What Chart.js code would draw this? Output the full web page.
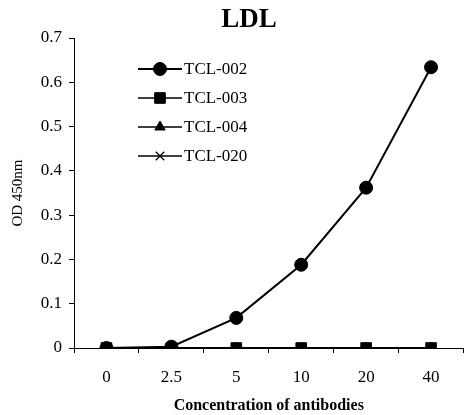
<!DOCTYPE html>
<html>
<head>
<meta charset="UTF-8">
<title>LDL</title>
<script src="https://cdn.jsdelivr.net/npm/chart.js"></script>
<style>
  html, body { margin: 0; padding: 0; background: #fff; overflow: hidden; }
  #wrap { width: 464px; height: 415px; overflow: hidden; }
</style>
</head>
<body>
<div id="wrap"><canvas id="chart" width="472" height="415"></canvas></div>
<script>
const concentrations = ['0', '2.5', '5', '10', '20', '40'];
const tcl002 = [0, 0.003, 0.068, 0.188, 0.362, 0.634];
const tcl003 = [0, 0, 0, 0, 0, 0];
const tcl004 = [0, 0, 0, 0, 0, 0];
const tcl020 = [0, 0, 0, 0, 0, 0];
const seriesNames = ['TCL-002', 'TCL-003', 'TCL-004', 'TCL-020'];
const chartTitle = 'LDL';

const serif = '"Liberation Serif", "Times New Roman", serif';

function series(label, data, style, radius) {
  return {
    label, data,
    borderColor: '#000', backgroundColor: '#000',
    borderWidth: 2,
    pointStyle: style, pointRadius: radius,
    pointBorderColor: '#000', pointBackgroundColor: '#000',
    pointBorderWidth: style === 'crossRot' ? 1.3 : 1,
    tension: 0
  };
}

// title sits a little right of the canvas centre, and the legend sits inside the plot area
const decorations = {
  id: 'decorations',
  afterDraw(chart) {
    const ctx = chart.ctx;
    ctx.save();
    ctx.fillStyle = '#000';
    ctx.font = 'bold 27px ' + serif;
    ctx.textAlign = 'center';
    ctx.textBaseline = 'middle';
    ctx.fillText(chartTitle, 249, 20);

    const x0 = 138, x1 = 182, rows = [69, 98, 127, 156];
    ctx.textAlign = 'left';
    chart.data.datasets.forEach((ds, i) => {
      const y = rows[i];
      ctx.strokeStyle = '#000';
      ctx.lineWidth = i === 0 ? 2 : 1.3;
      ctx.beginPath();
      ctx.moveTo(x0, y);
      ctx.lineTo(x1, y);
      ctx.stroke();
      ctx.fillStyle = '#000';
      ctx.lineWidth = ds.pointBorderWidth;
      Chart.helpers.drawPoint(ctx, {
        pointStyle: ds.pointStyle,
        radius: ds.pointRadius,
        borderWidth: ds.pointBorderWidth
      }, (x0 + x1) / 2, y);
      ctx.font = '17px ' + serif;
      ctx.fillText(ds.label, x1 + 2, y + 1);
    });
    ctx.restore();
  }
};

new Chart(document.getElementById('chart'), {
  type: 'line',
  data: {
    labels: concentrations,
    datasets: [
      series(seriesNames[0], tcl002, 'circle', 6.5),
      series(seriesNames[1], tcl003, 'rect', 7.5),
      series(seriesNames[2], tcl004, 'triangle', 6),
      series(seriesNames[3], tcl020, 'crossRot', 6)
    ]
  },
  options: {
    responsive: false,
    animation: false,
    layout: { padding: { top: 38, right: 0, left: 0, bottom: 0 } },
    plugins: {
      legend: { display: false },
      tooltip: { enabled: false },
      title: { display: false }
    },
    scales: {
      x: {
        offset: true,
        grid: { offset: true, drawOnChartArea: false, color: '#000', tickLength: 5, tickWidth: 1 },
        border: { color: '#000', width: 1 },
        ticks: { color: '#000', font: { family: serif, size: 17 }, padding: 14 },
        title: {
          display: true, text: 'Concentration of antibodies', color: '#000',
          font: { family: serif, size: 16, weight: 'bold' }, padding: { top: 10, bottom: 0 }
        },
        afterFit(scale) {
          scale.height = 67;
        }
      },
      y: {
        min: 0, max: 0.7,
        ticks: { stepSize: 0.1, color: '#000', font: { family: serif, size: 17 }, padding: 7 },
        grid: { drawOnChartArea: false, color: '#000', tickLength: 5, tickWidth: 1 },
        border: { color: '#000', width: 1 },
        title: {
          display: true, text: 'OD 450nm', color: '#000',
          font: { family: serif, size: 15 }, padding: { top: 9, bottom: 0 }
        },
        afterFit(scale) { scale.width = 74; }
      }
    }
  },
  plugins: [decorations]
});
</script>
</body>
</html>
